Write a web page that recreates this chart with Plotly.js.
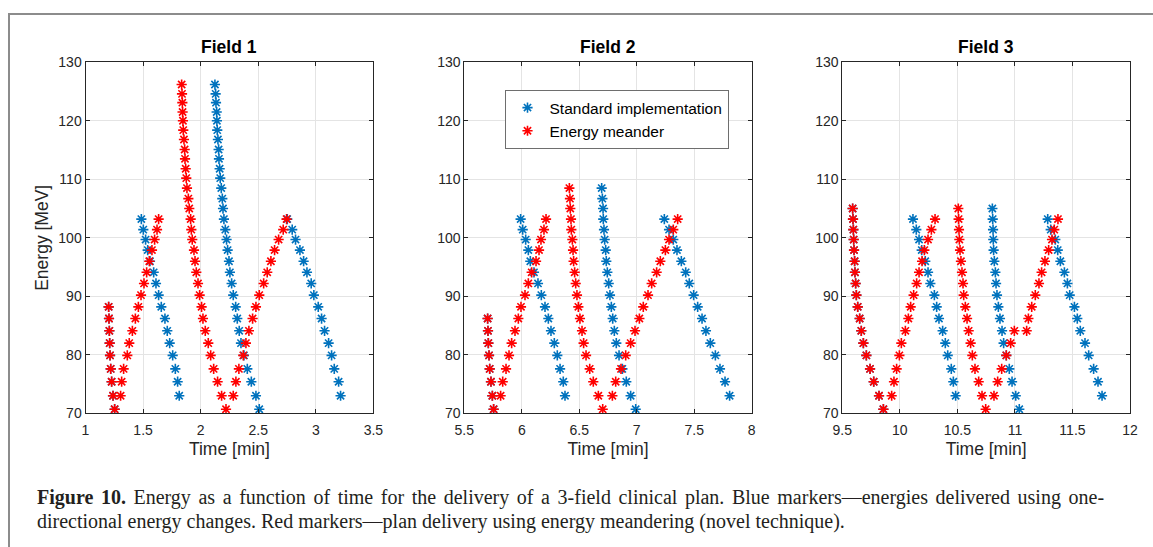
<!DOCTYPE html>
<html>
<head>
<meta charset="utf-8">
<script src="https://cdn.plot.ly/plotly-3.0.1.min.js"></script>
<style>
  html, body { margin: 0; padding: 0; background: #ffffff; }
  #chart { width: 1153px; height: 547px; }
</style>
</head>
<body>
<div id="chart"></div>
<script>
// ---------------- Data ----------------
// Field 1 - standard implementation
const f1StdTime = [1.201,1.204,1.207,1.210,1.213,1.219,1.227,1.239,1.253,
  1.485,1.502,1.522,1.540,1.560,1.592,1.612,1.635,1.658,1.690,1.710,1.731,1.757,1.780,1.800,1.814,
  2.124,2.130,2.133,2.139,2.141,2.144,2.150,2.156,2.159,2.165,2.170,2.179,2.188,2.194,2.202,2.214,2.225,2.234,2.246,2.254,2.269,2.283,2.304,2.318,2.335,2.350,2.376,2.405,2.440,2.480,2.509,
  2.752,2.795,2.824,2.862,2.894,2.923,2.960,2.983,3.021,3.050,3.076,3.111,3.137,3.160,3.198,3.215];
const f1StdEnergy = [88.2,86.2,84.1,82.0,79.9,77.6,75.4,73.0,70.7,
  103.2,101.4,99.7,97.9,96.0,94.1,92.2,90.2,88.2,86.2,84.1,82.0,79.9,77.6,75.4,73.0,
  126.2,124.6,123.1,121.5,120.0,118.4,116.8,115.1,113.5,111.8,110.2,108.5,106.7,105.0,103.2,101.4,99.7,97.9,96.0,94.1,92.2,90.2,88.2,86.2,84.1,82.0,79.9,77.6,75.4,73.0,70.7,
  103.2,101.4,99.7,97.9,96.0,94.1,92.2,90.2,88.2,86.2,84.1,82.0,79.9,77.6,75.4,73.0];
// Field 1 - energy meander
const f1MeanderTime = [1.201,1.204,1.207,1.210,1.213,1.219,1.227,1.239,1.253,
  1.305,1.314,1.331,1.363,1.380,1.407,1.433,1.459,1.482,1.508,1.531,1.554,1.577,1.600,1.621,1.635,
  1.835,1.838,1.841,1.843,1.846,1.849,1.855,1.861,1.864,1.870,1.875,1.881,1.893,1.901,1.913,1.919,1.927,1.942,1.951,1.962,1.977,1.991,2.008,2.020,2.040,2.066,2.087,2.113,2.147,2.182,2.220,
  2.283,2.306,2.332,2.370,2.393,2.419,2.451,2.480,2.509,2.547,2.578,2.610,2.642,2.677,2.717,2.746];
const f1MeanderEnergy = [88.2,86.2,84.1,82.0,79.9,77.6,75.4,73.0,70.7,
  73.0,75.4,77.6,79.9,82.0,84.1,86.2,88.2,90.2,92.2,94.1,96.0,97.9,99.7,101.4,103.2,
  126.2,124.6,123.1,121.5,120.0,118.4,116.8,115.1,113.5,111.8,110.2,108.5,106.7,105.0,103.2,101.4,99.7,97.9,96.0,94.1,92.2,90.2,88.2,86.2,84.1,82.0,79.9,77.6,75.4,73.0,70.7,
  73.0,75.4,77.6,79.9,82.0,84.1,86.2,88.2,90.2,92.2,94.1,96.0,97.9,99.7,101.4,103.2];

// Field 2 - standard implementation
const f2StdTime = [5.703,5.706,5.709,5.715,5.721,5.732,5.744,5.755,
  5.990,6.008,6.034,6.057,6.074,6.106,6.141,6.170,6.202,6.231,6.254,6.283,6.309,6.333,6.361,6.376,
  6.695,6.701,6.707,6.709,6.715,6.721,6.730,6.735,6.744,6.756,6.767,6.779,6.791,6.805,6.822,6.846,6.875,6.909,6.947,6.991,
  7.240,7.281,7.318,7.350,7.388,7.426,7.457,7.495,7.530,7.568,7.602,7.640,7.684,7.724,7.768,7.808];
const f2StdEnergy = [86.2,84.1,82.0,79.9,77.6,75.4,73.0,70.7,
  103.2,101.4,99.7,97.9,96.0,94.1,92.2,90.2,88.2,86.2,84.1,82.0,79.9,77.6,75.4,73.0,
  108.5,106.7,105.0,103.2,101.4,99.7,97.9,96.0,94.1,92.2,90.2,88.2,86.2,84.1,82.0,79.9,77.6,75.4,73.0,70.7,
  103.2,101.4,99.7,97.9,96.0,94.1,92.2,90.2,88.2,86.2,84.1,82.0,79.9,77.6,75.4,73.0];
// Field 2 - energy meander
const f2MeanderTime = [5.703,5.706,5.709,5.715,5.721,5.732,5.744,5.755,
  5.816,5.834,5.863,5.889,5.912,5.941,5.970,5.993,6.028,6.057,6.086,6.124,6.150,6.167,6.193,6.211,
  6.414,6.419,6.422,6.428,6.431,6.440,6.446,6.451,6.460,6.469,6.480,6.492,6.506,6.524,6.538,6.559,6.591,6.622,6.666,6.704,
  6.788,6.817,6.863,6.904,6.947,6.985,7.023,7.057,7.098,7.130,7.173,7.205,7.249,7.281,7.318,7.356];
const f2MeanderEnergy = [86.2,84.1,82.0,79.9,77.6,75.4,73.0,70.7,
  73.0,75.4,77.6,79.9,82.0,84.1,86.2,88.2,90.2,92.2,94.1,96.0,97.9,99.7,101.4,103.2,
  108.5,106.7,105.0,103.2,101.4,99.7,97.9,96.0,94.1,92.2,90.2,88.2,86.2,84.1,82.0,79.9,77.6,75.4,73.0,70.7,
  73.0,75.4,77.6,79.9,82.0,84.1,86.2,88.2,90.2,92.2,94.1,96.0,97.9,99.7,101.4,103.2];

// Field 3 - standard implementation
const f3StdTime = [9.590,9.593,9.596,9.599,9.602,9.607,9.610,9.616,9.622,9.634,9.651,9.665,9.683,9.709,9.741,9.773,9.819,9.857,
  10.114,10.143,10.167,10.190,10.221,10.245,10.265,10.300,10.320,10.340,10.372,10.395,10.416,10.447,10.465,10.485,
  10.804,10.807,10.810,10.812,10.815,10.821,10.830,10.836,10.844,10.856,10.870,10.888,10.902,10.925,10.951,10.975,11.007,11.038,
  11.285,11.311,11.351,11.372,11.395,11.430,11.456,11.476,11.517,11.542,11.568,11.609,11.641,11.684,11.722,11.757];
const f3StdEnergy = [105.0,103.2,101.4,99.7,97.9,96.0,94.1,92.2,90.2,88.2,86.2,84.1,82.0,79.9,77.6,75.4,73.0,70.7,
  103.2,101.4,99.7,97.9,96.0,94.1,92.2,90.2,88.2,86.2,84.1,82.0,79.9,77.6,75.4,73.0,
  105.0,103.2,101.4,99.7,97.9,96.0,94.1,92.2,90.2,88.2,86.2,84.1,82.0,79.9,77.6,75.4,73.0,70.7,
  103.2,101.4,99.7,97.9,96.0,94.1,92.2,90.2,88.2,86.2,84.1,82.0,79.9,77.6,75.4,73.0];
// Field 3 - energy meander
const f3MeanderTime = [9.590,9.593,9.596,9.599,9.602,9.607,9.610,9.616,9.622,9.634,9.651,9.665,9.683,9.709,9.741,9.773,9.819,9.857,
  9.929,9.949,9.972,9.996,10.013,10.048,10.074,10.094,10.120,10.146,10.167,10.193,10.213,10.245,10.274,10.306,
  10.508,10.511,10.514,10.517,10.523,10.531,10.540,10.549,10.555,10.569,10.584,10.598,10.615,10.630,10.653,10.685,10.714,10.746,
  10.818,10.850,10.885,10.925,10.963,10.995,
  11.102,11.117,11.146,11.177,11.209,11.232,11.261,11.293,11.322,11.342,11.374];
const f3MeanderEnergy = [105.0,103.2,101.4,99.7,97.9,96.0,94.1,92.2,90.2,88.2,86.2,84.1,82.0,79.9,77.6,75.4,73.0,70.7,
  73.0,75.4,77.6,79.9,82.0,84.1,86.2,88.2,90.2,92.2,94.1,96.0,97.9,99.7,101.4,103.2,
  105.0,103.2,101.4,99.7,97.9,96.0,94.1,92.2,90.2,88.2,86.2,84.1,82.0,79.9,77.6,75.4,73.0,70.7,
  73.0,75.4,77.6,79.9,82.0,84.1,
  84.1,86.2,88.2,90.2,92.2,94.1,96.0,97.9,99.7,101.4,103.2];

const panelTitles = ['Field 1', 'Field 2', 'Field 3'];
const timeRanges = [[1, 3.5], [5.5, 8], [9.5, 12]];
const energyRange = [70, 130];
const seriesNames = ['Standard implementation', 'Energy meander'];
const captionBold = 'Figure 10.';
const captionLine1 = ' Energy as a function of time for the delivery of a 3-field clinical plan. Blue markers\u2014energies delivered using one-';
const captionLine2 = 'directional energy changes. Red markers\u2014plan delivery using energy meandering (novel technique).';

// ---------------- Styling ----------------
const W = 1153, H = 547;
const BLUE = '#0072BD', RED = '#FF0000';
const AX = '#262626';
const FONT = 'Liberation Sans, Arial, Helvetica, sans-serif';
const px2x = p => p / W;
const px2y = p => 1 - p / H;

const xDomains = [[px2x(85.5), px2x(373.4)], [px2x(464.3), px2x(751.7)], [px2x(842.3), px2x(1130)]];
const yDomain = [px2y(413.3), px2y(62.3)];

const stdT = [f1StdTime, f2StdTime, f3StdTime];
const stdE = [f1StdEnergy, f2StdEnergy, f3StdEnergy];
const meaT = [f1MeanderTime, f2MeanderTime, f3MeanderTime];
const meaE = [f1MeanderEnergy, f2MeanderEnergy, f3MeanderEnergy];

const traces = [];
for (let i = 0; i < 3; i++) {
  const xa = i === 0 ? 'x' : 'x' + (i + 1);
  const ya = i === 0 ? 'y' : 'y' + (i + 1);
  traces.push({
    type: 'scatter', mode: 'markers', x: stdT[i], y: stdE[i], xaxis: xa, yaxis: ya,
    name: seriesNames[0], showlegend: i === 1,
    marker: { symbol: 'asterisk-open', size: 8.5, color: BLUE, line: { color: BLUE, width: 1.6 } },
    cliponaxis: true
  });
  traces.push({
    type: 'scatter', mode: 'markers', x: meaT[i], y: meaE[i], xaxis: xa, yaxis: ya,
    name: seriesNames[1], showlegend: i === 1,
    marker: { symbol: 'asterisk-open', size: 8.5, color: RED, line: { color: RED, width: 1.6 } },
    cliponaxis: true
  });
}

const layout = {
  width: W, height: H,
  margin: { l: 0, r: 0, t: 0, b: 0, pad: 0 },
  paper_bgcolor: '#ffffff', plot_bgcolor: '#ffffff',
  font: { family: FONT, color: AX, size: 14 },
  showlegend: true,
  legend: {
    x: px2x(504.5), y: px2y(90), xanchor: 'left', yanchor: 'top',
    bgcolor: '#ffffff', bordercolor: '#6e6e6e', borderwidth: 1,
    font: { family: FONT, size: 15.5, color: '#000000' },
    itemwidth: 34, tracegroupgap: 0
  },
  annotations: [],
  shapes: [
    { type: 'line', xref: 'paper', yref: 'paper', x0: px2x(9), x1: px2x(9), y0: px2y(547), y1: px2y(14),
      line: { color: '#8c8c8c', width: 2 } },
    { type: 'line', xref: 'paper', yref: 'paper', x0: px2x(8), x1: 1, y0: px2y(14), y1: px2y(14),
      line: { color: '#8c8c8c', width: 2 } }
  ]
};

for (let i = 0; i < 3; i++) {
  const xk = i === 0 ? 'xaxis' : 'xaxis' + (i + 1);
  const yk = i === 0 ? 'yaxis' : 'yaxis' + (i + 1);
  const xa = i === 0 ? 'x' : 'x' + (i + 1);
  const ya = i === 0 ? 'y' : 'y' + (i + 1);
  layout[xk] = {
    domain: xDomains[i], anchor: ya, range: timeRanges[i], dtick: 0.5, tick0: timeRanges[i][0],
    showline: true, linecolor: AX, linewidth: 1, mirror: 'ticks',
    ticks: 'inside', ticklen: 4, tickcolor: AX, tickwidth: 1,
    showgrid: true, gridcolor: '#e4e4e4', gridwidth: 1, zeroline: false,
    tickfont: { family: FONT, size: 14, color: AX }, ticklabelstandoff: 4,
    title: { text: 'Time [min]', font: { family: FONT, size: 17.5, color: AX }, standoff: 5 },
    fixedrange: true
  };
  layout[yk] = {
    domain: yDomain, anchor: xa, range: energyRange, dtick: 10, tick0: 70,
    showline: true, linecolor: AX, linewidth: 1, mirror: 'ticks',
    ticks: 'inside', ticklen: 4, tickcolor: AX, tickwidth: 1,
    showgrid: true, gridcolor: '#e4e4e4', gridwidth: 1, zeroline: false,
    tickfont: { family: FONT, size: 14, color: AX },
    title: i === 0 ? { text: 'Energy [MeV]', font: { family: FONT, size: 17.5, color: AX }, standoff: 5 } : { text: '' },
    fixedrange: true
  };
  layout.annotations.push({
    xref: 'paper', yref: 'paper', x: (xDomains[i][0] + xDomains[i][1]) / 2, y: px2y(47),
    xanchor: 'center', yanchor: 'middle', showarrow: false,
    text: '<b>' + panelTitles[i] + '</b>',
    font: { family: FONT, size: 17.5, color: '#000000' }
  });
}

const SERIF = 'Liberation Serif, Times New Roman, serif';
layout.annotations.push({
  xref: 'paper', yref: 'paper', x: px2x(35), y: px2y(497), xanchor: 'left', yanchor: 'middle',
  showarrow: false, align: 'left',
  text: '<b>' + captionBold + '</b>' + captionLine1,
  font: { family: SERIF, size: 20, color: '#231f20' }
});
layout.annotations.push({
  xref: 'paper', yref: 'paper', x: px2x(35), y: px2y(521), xanchor: 'left', yanchor: 'middle',
  showarrow: false, align: 'left',
  text: captionLine2,
  font: { family: SERIF, size: 20, color: '#231f20' }
});

Plotly.newPlot('chart', traces, layout, { displayModeBar: false, staticPlot: true }).then(gd => {
  // justify the first caption line (the reference caption is set justified)
  const anns = gd.querySelectorAll('.annotation-text');
  const first = anns[3];
  if (first) {
    const target = 1103 - 36;
    const w = first.getComputedTextLength ? first.getComputedTextLength() : 0;
    const spaces = (first.textContent.match(/ /g) || []).length;
    if (w > 0 && spaces > 0 && w < target) {
      first.style.wordSpacing = ((target - w) / spaces).toFixed(2) + 'px';
    }
  }
});
</script>
</body>
</html>
